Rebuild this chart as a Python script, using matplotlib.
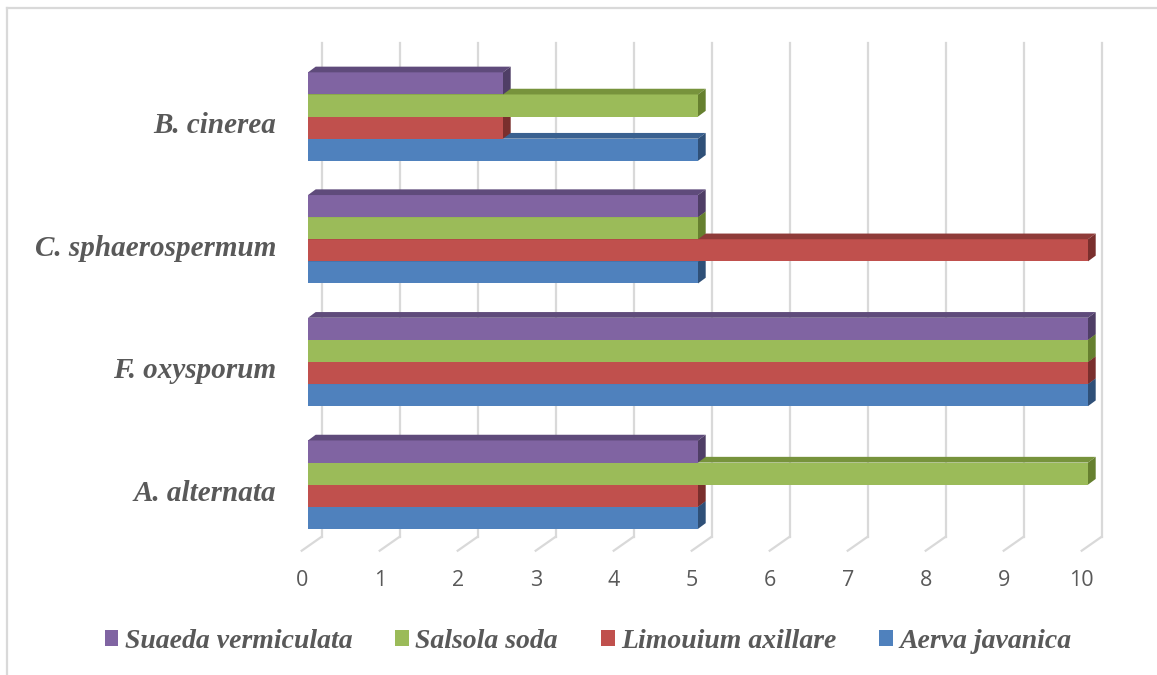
import matplotlib
matplotlib.use("Agg")
import matplotlib.pyplot as plt
import matplotlib.transforms as mtransforms
from matplotlib.patches import Polygon, Patch
from matplotlib.lines import Line2D

# Dane
categories = ["A. alternata", "F. oxysporum", "C. sphaerospermum", "B. cinerea"]
series_names = ["Aerva javanica", "Limouium axillare", "Salsola soda", "Suaeda vermiculata"]
aerva = [5, 10, 5, 5]
limouium = [5, 10, 10, 2.5]
salsola = [10, 10, 5, 5]
suaeda = [5, 10, 5, 2.5]
x_ticks = list(range(0, 11))

values = [aerva, limouium, salsola, suaeda]
front_cols = ["#4f81bd", "#c0504d", "#9bbb59", "#8064a2"]
top_cols = ["#3a6190", "#8f3b39", "#77933c", "#5f4b7b"]
side_cols = ["#2f5078", "#7a2f2d", "#66802f", "#4f3e66"]

text_col = "#595959"
grid_col = "#d9d9d9"

W, H = 1157, 675
fig = plt.figure(figsize=(W / 100, H / 100), dpi=100)

# os w pikselach: 0 -> 308, 10 -> 1088; kategorie co ~122.7 px
ax = fig.add_axes([308 / W, (H - 546) / H, 780 / W, 490.8 / H])
ax.set_xlim(0, 10)
ax.set_ylim(-0.5, 3.5)
for s in ax.spines.values():
    s.set_visible(False)
ax.set_xticks([])

px_x = 10 / 780.0      # jednostki danych na piksel (x)
px_y = 4 / 490.8       # jednostki danych na piksel (y)

bar_h = 22.1 * px_y
ddx, ddy = 7.7 * px_x, 5.7 * px_y   # glebokosc slupka

# siatka 3D (tylna sciana + podloga)
blend = mtransforms.blended_transform_factory(ax.transData, ax.transAxes)
back_dx = 13.7 * px_x
front_dx = -6.3 * px_x
y_top, y_back, y_front = (546 - 43) / 490.8, (546 - 536.7) / 490.8, (546 - 550.7) / 490.8
for v in x_ticks:
    ax.plot([v + back_dx, v + back_dx], [y_back, y_top], transform=blend,
            color=grid_col, lw=1.6, clip_on=False, zorder=1)
    ax.plot([v + front_dx, v + back_dx], [y_front, y_back], transform=blend,
            color=grid_col, lw=1.6, clip_on=False, zorder=1)
    ax.text(v + front_dx, (546 - 581) / 490.8, str(v), transform=blend,
            ha="center", va="center", fontsize=15.5, color=text_col,
            family="Open Sans")

# slupki
for i, vals in enumerate(values):
    for j, v in enumerate(vals):
        y0 = j + (i - 2) * bar_h
        y1 = y0 + bar_h
        z = 3 + i
        ax.barh(y0 + bar_h / 2, v, height=bar_h, color=front_cols[i],
                edgecolor="none", zorder=z)
        top = Polygon([(0, y1), (v, y1), (v + ddx, y1 + ddy), (ddx, y1 + ddy)],
                      closed=True, facecolor=top_cols[i], edgecolor="none",
                      zorder=z, clip_on=False)
        side = Polygon([(v, y0), (v + ddx, y0 + ddy), (v + ddx, y1 + ddy), (v, y1)],
                       closed=True, facecolor=side_cols[i], edgecolor="none",
                       zorder=z, clip_on=False)
        ax.add_patch(top)
        ax.add_patch(side)

# etykiety kategorii
ax.set_yticks(range(len(categories)))
ax.set_yticklabels(categories, fontsize=21, color=text_col,
                   family="Liberation Serif", fontweight="bold", fontstyle="italic")
ax.tick_params(axis="y", length=0, pad=23)
shift = mtransforms.ScaledTranslation(0, -6 / 100, fig.dpi_scale_trans)
for lab in ax.get_yticklabels():
    lab.set_transform(lab.get_transform() + shift)

# legenda
order = [3, 2, 1, 0]
handles = [Patch(facecolor=front_cols[k], edgecolor="none") for k in order]
labels = [series_names[k] for k in order]
fig.legend(handles, labels, loc="center", bbox_to_anchor=(588 / W, 1 - 641 / H),
           ncol=4, frameon=False, handlelength=0.5, handleheight=0.5,
           handletextpad=0.22, columnspacing=1.55,
           prop={"family": "Liberation Serif", "weight": "bold",
                 "style": "italic", "size": 20},
           labelcolor=text_col)

# ramka wykresu
fig.add_artist(Line2D([7 / W, 1], [1 - 8 / H, 1 - 8 / H], color=grid_col, lw=1.6))
fig.add_artist(Line2D([7 / W, 7 / W], [0, 1 - 8 / H], color=grid_col, lw=1.6))

fig.savefig("out.png", dpi=100)
